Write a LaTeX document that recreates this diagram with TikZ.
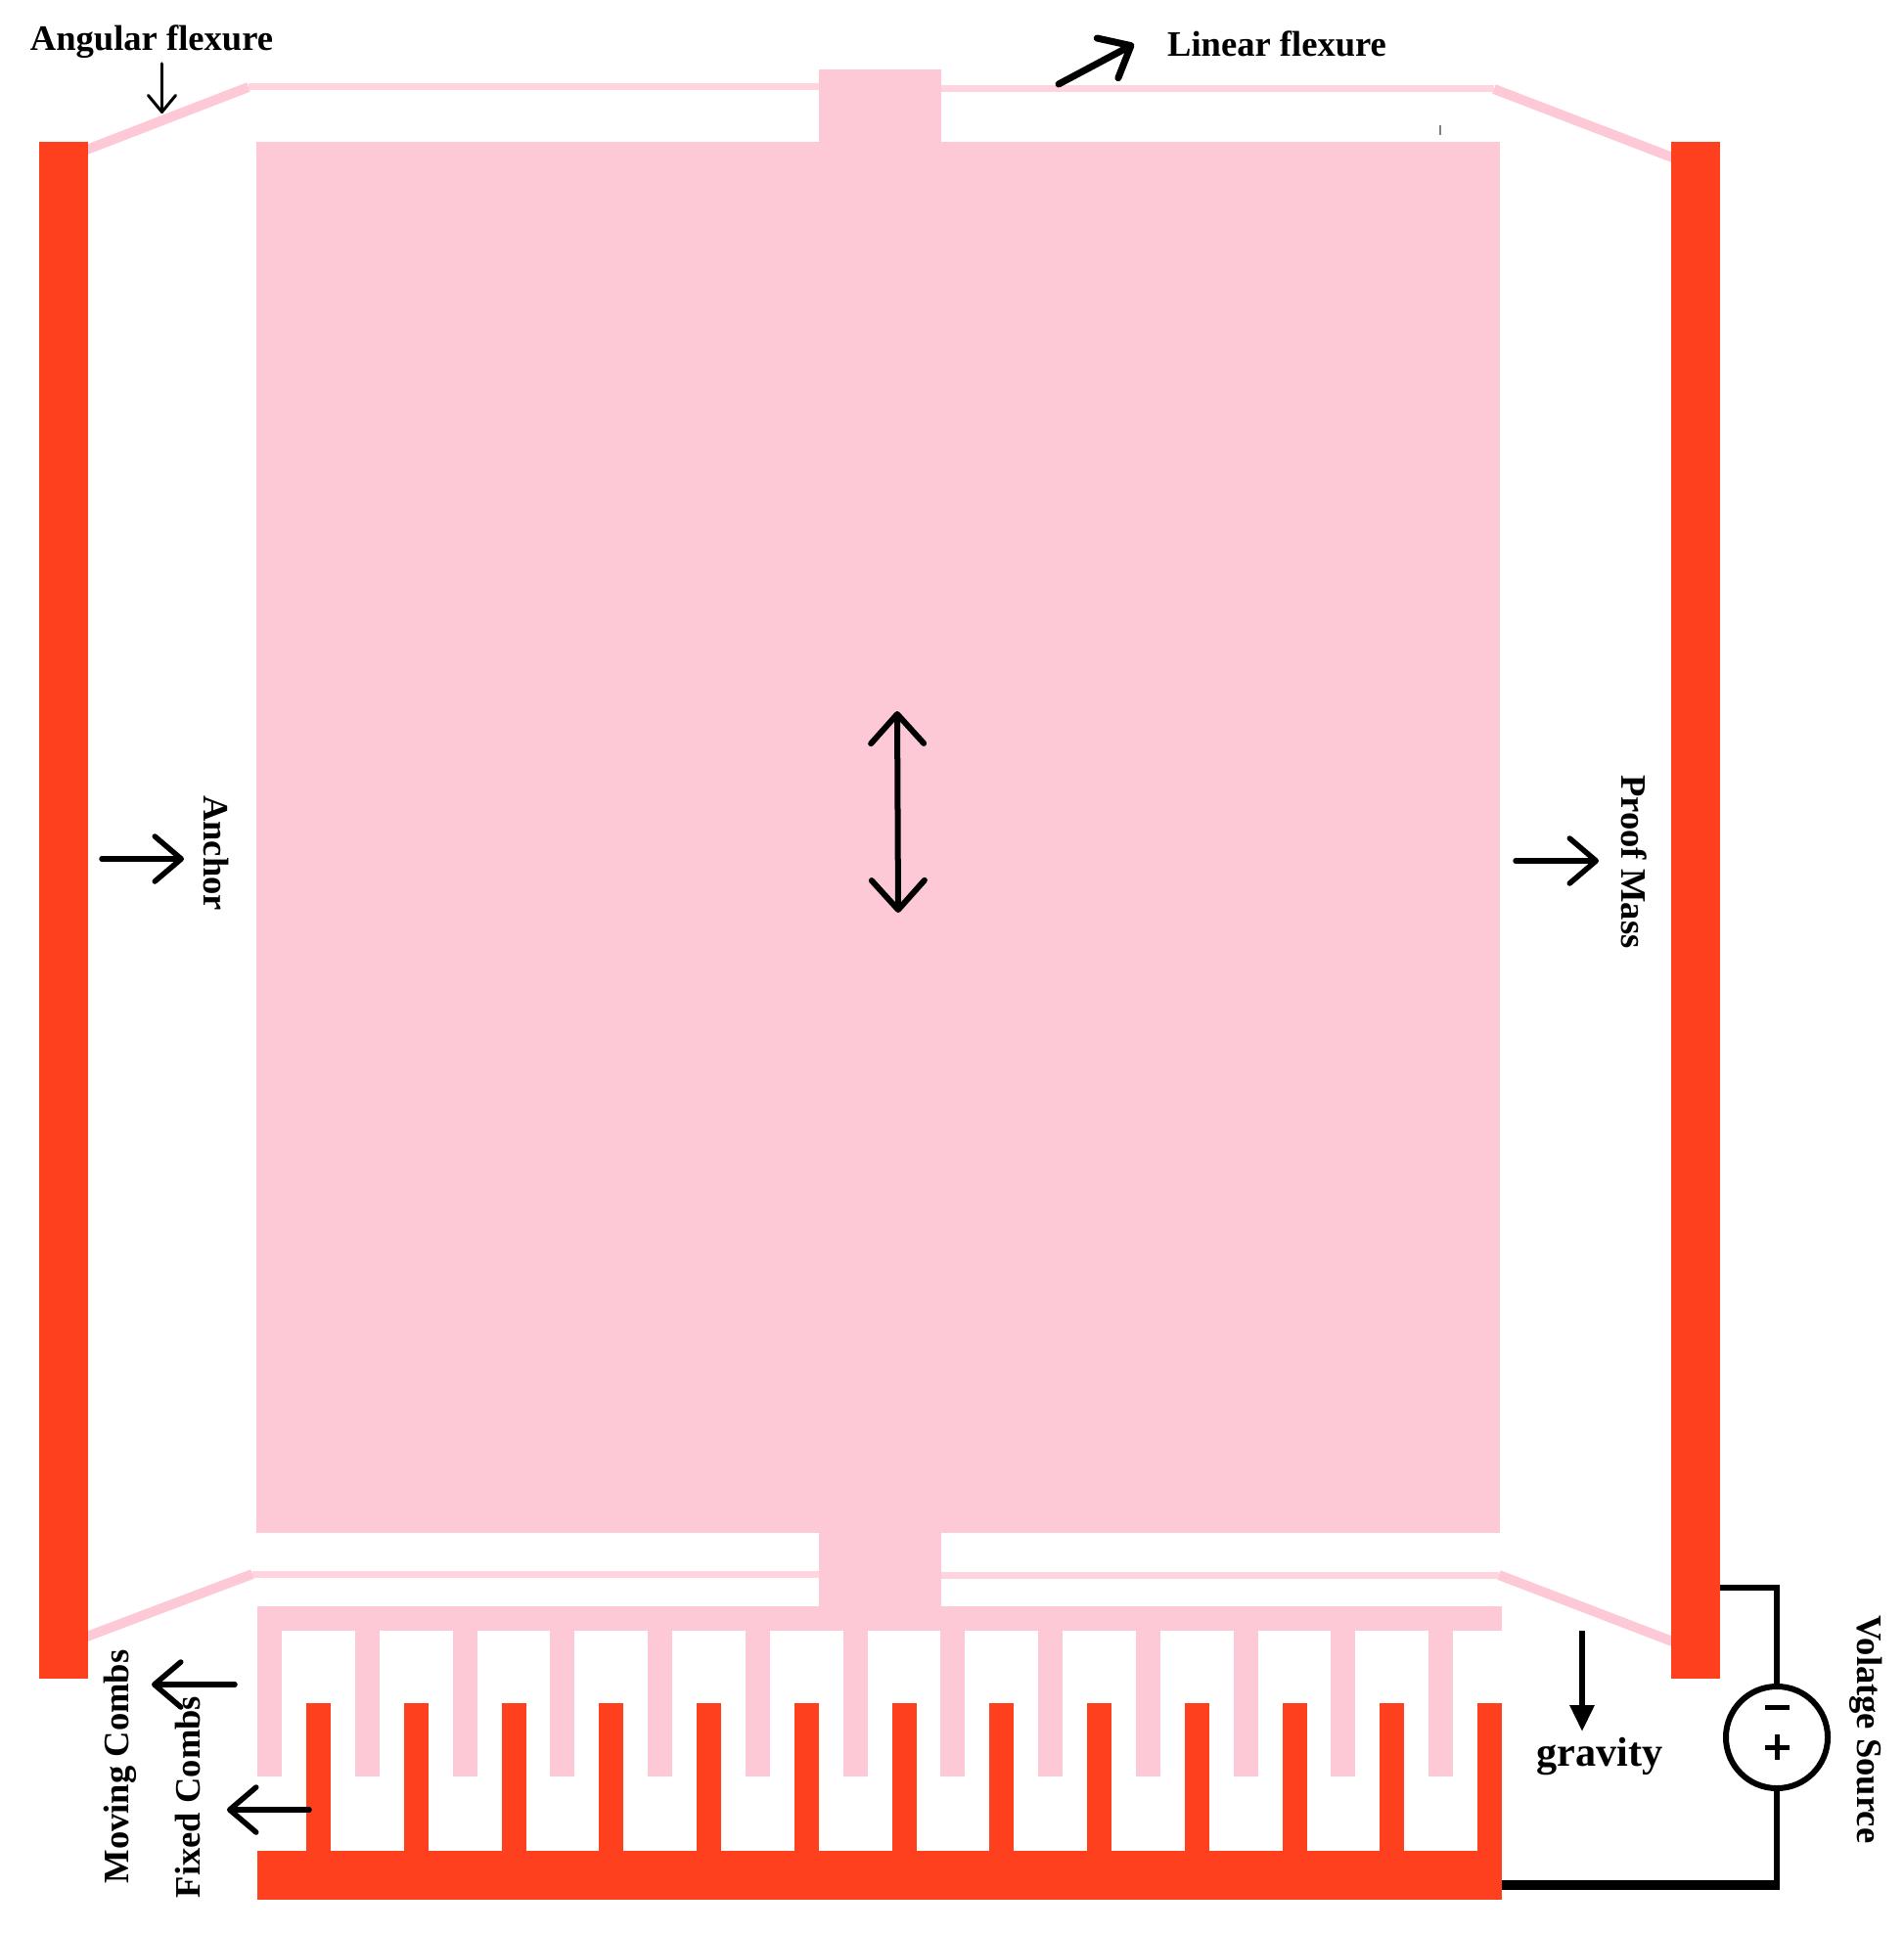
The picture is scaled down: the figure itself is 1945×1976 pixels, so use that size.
\documentclass[tikz,border=0pt]{standalone}
\usepackage{fontspec}
\setmainfont{Liberation Serif}
\usetikzlibrary{arrows.meta}
\definecolor{softpink}{RGB}{254,201,215}
\definecolor{palepink}{RGB}{255,212,223}
\definecolor{anchorred}{RGB}{255,64,31}
\tikzset{
    softpart/.style={fill=softpink},
    fixedpart/.style={fill=anchorred},
    flexbeam/.style={draw=palepink, line width=0.07cm},
    flexslant/.style={draw=softpink, line width=0.1cm},
    barbarrow/.style={line width=0.055cm, line cap=round, -{Straight Barb[length=0.27cm, width=0.46cm, round]}},
    wire/.style={line width=0.06cm},
    lab/.style={inner sep=0pt, font=\fontsize{10.4pt}{12pt}\selectfont\bfseries}
}
\begin{document}
\begin{tikzpicture}[x=0.01cm, y=-0.01cm]
        \useasboundingbox (0, 0) rectangle (1945, 1976);

        \coordinate (TL0) at (86, 154);
        \coordinate (TL1) at (254, 89);
        \coordinate (TR0) at (1712, 162);
        \coordinate (TR1) at (1527, 91);
        \coordinate (BL0) at (86, 1674);
        \coordinate (BL1) at (258, 1609);
        \coordinate (BR0) at (1712, 1679);
        \coordinate (BR1) at (1532, 1610);
        \coordinate (TSL) at (837, 89);
        \coordinate (TSR) at (962, 91);
        \coordinate (BSL) at (837, 1609);
        \coordinate (BSR) at (962, 1610);

        \draw[flexslant] (TL0) -- (TL1);
        \draw[flexslant] (TR0) -- (TR1);
        \draw[flexslant] (BL0) -- (BL1);
        \draw[flexslant] (BR0) -- (BR1);
        \draw[flexbeam] (TL1) -- (TSL);
        \draw[flexbeam] (TSR) -- (TR1);
        \draw[flexbeam] (BL1) -- (BSL);
        \draw[flexbeam] (BSR) -- (BR1);

        \fill[softpart] (262, 145) rectangle (1533, 1567);
        \fill[softpart] (837, 71) rectangle (962, 145);
        \fill[softpart] (837, 1567) rectangle (962, 1642);
        \fill[softpart] (263, 1642) rectangle (1535, 1667);
        \foreach \i in {0,...,12}
            \fill[softpart] ({263 + 99.75*\i}, 1667) rectangle ++(25, 149);

        \fill[fixedpart] (40, 145) rectangle (90, 1716);
        \fill[fixedpart] (1708, 145) rectangle (1758, 1716);
        \fill[fixedpart] (263, 1892) rectangle (1535, 1942);
        \foreach \i in {0,...,12}
            \fill[fixedpart] ({313 + 99.75*\i}, 1741) rectangle ++(25, 151);

        \fill[gray] (1471, 128) rectangle (1473, 138);

        \node[draw, circle, line width=0.06cm, minimum size=1.04cm, inner sep=0pt] (source) at (1816, 1776) {};
        \coordinate (AR) at (1758, 1623);
        \coordinate (MR) at (1535, 1927);
        \coordinate (CR) at (1816, 1927);
        \draw[wire] (AR) -| (source.north);
        \draw[wire] (source.south) -- (CR);
        \draw[line width=0.1cm] (MR) -- (1819, 1927);
        \draw[line width=0.05cm] (1804, 1745) -- (1829, 1745);
        \draw[line width=0.05cm] (1804, 1786) -- (1829, 1786);
        \draw[line width=0.05cm] (1816.5, 1773) -- (1816.5, 1799);

        \node[lab] (angular) at (155, 43) {Angular flexure};
        \node[lab] (linear) at (1305, 45) {Linear flexure};
        \node[lab, rotate=-90] (anchorlab) at (221, 872) {Anchor};
        \node[lab, rotate=-90] (masslab) at (1670, 881) {Proof Mass};
        \node[lab, rotate=90] (movinglab) at (123, 1806) {Moving Combs};
        \node[lab, rotate=90] (fixedlab) at (192, 1837) {Fixed Combs};
        \node[lab, rotate=-90] (voltagelab) at (1907, 1768) {Volatge Source};
        \node[lab, font=\fontsize{12pt}{14pt}\selectfont\bfseries] (gravitylab) at (1635, 1795) {gravity};

        \coordinate (A0) at (165.5, 65);
        \coordinate (A1) at (165.5, 116);
        \coordinate (L0) at (1082, 86);
        \coordinate (L1) at (1159, 45);
        \coordinate (D0) at (917, 727);
        \coordinate (D1) at (918, 933);
        \coordinate (N0) at (104, 878);
        \coordinate (N1) at (188, 878);
        \coordinate (P0) at (1549, 880);
        \coordinate (P1) at (1634, 880);
        \coordinate (M0) at (240, 1722);
        \coordinate (M1) at (155, 1722);
        \coordinate (F0) at (316, 1850);
        \coordinate (F1) at (232, 1850);
        \coordinate (G0) at (1617, 1667);
        \coordinate (G1) at (1617, 1770);

        \draw[line width=0.03cm, line cap=round, -{Straight Barb[length=0.17cm, width=0.28cm, round]}] (A0) -- (A1);
        \draw[barbarrow, line width=0.07cm] (L0) -- (L1);
        \draw[line width=0.06cm, line cap=round, {Straight Barb[length=0.3cm, width=0.54cm, round]}-{Straight Barb[length=0.3cm, width=0.54cm, round]}] (D0) -- (D1);
        \draw[barbarrow] (N0) -- (N1);
        \draw[barbarrow] (P0) -- (P1);
        \draw[barbarrow] (M0) -- (M1);
        \draw[barbarrow] (F0) -- (F1);
        \draw[line width=0.06cm, -{Stealth[length=0.27cm, width=0.24cm, inset=0pt]}] (G0) -- (G1);

    \end{tikzpicture}
\end{document}
